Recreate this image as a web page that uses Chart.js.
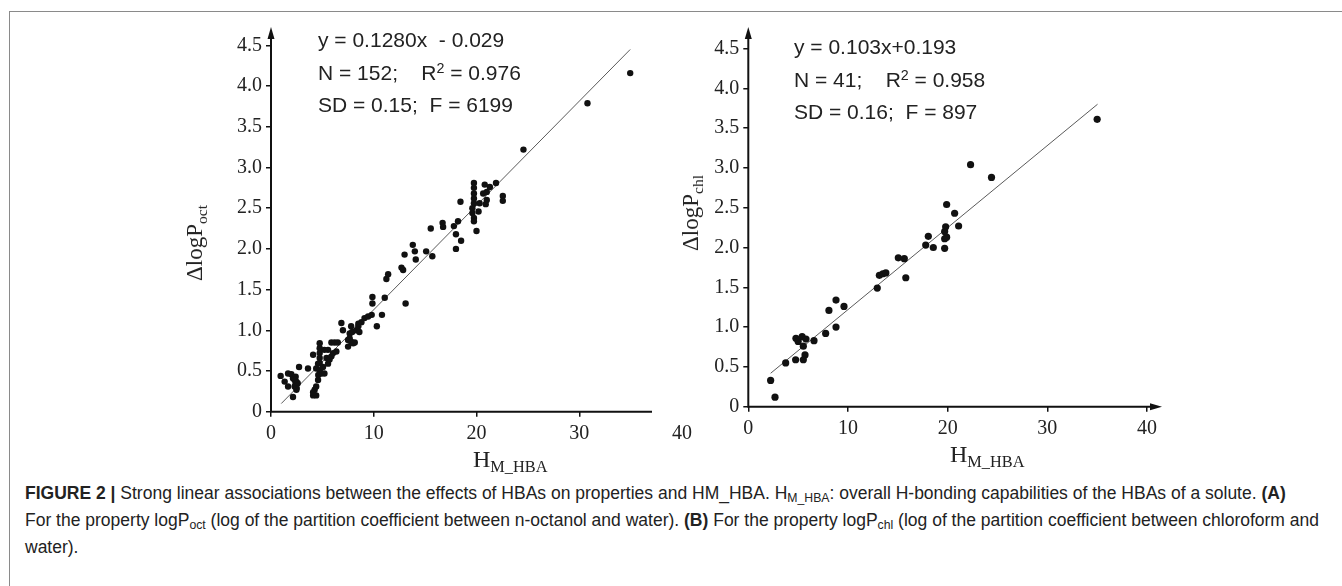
<!DOCTYPE html>
<html lang="en">
<head>
<meta charset="UTF-8"/>
<title>Figure 2 – H_M_HBA vs ΔlogP</title>
<script src="https://cdn.jsdelivr.net/npm/chart.js"></script>
<style>
  body{margin:0;padding:0;background:#fff;width:1342px;height:586px;overflow:hidden;position:relative;font-family:'Liberation Sans',Arial,sans-serif;color:#222;}
  .frame{position:absolute;left:9px;top:11px;width:1400px;height:700px;border:1px solid #8a8a8a;}
  canvas{position:absolute;}
  .eq{position:absolute;font-family:'Liberation Sans',Arial,sans-serif;font-size:21px;line-height:32.5px;color:#222;white-space:pre;}
  .eq sup{font-size:0.68em;vertical-align:0.5em;line-height:0;}
  .ytitle{position:absolute;font-family:'Liberation Serif','Times New Roman',serif;font-size:23px;color:#222;white-space:nowrap;transform:translate(-50%,-50%) rotate(-90deg);}
  .xtitle{position:absolute;font-family:'Liberation Serif','Times New Roman',serif;font-size:24px;line-height:24px;color:#222;white-space:nowrap;}
  .ytitle sub,.xtitle sub{font-size:0.68em;vertical-align:-0.3em;line-height:0;}
  #caption{position:absolute;left:25px;top:480px;font-size:17.5px;line-height:27px;color:#222;white-space:nowrap;}
  #caption sub{font-size:0.7em;vertical-align:-0.25em;line-height:0;}
</style>
</head>
<body>
<div class="frame"></div>

<canvas id="chartA" width="500" height="450" style="left:200px;top:20px;width:500px;height:450px"></canvas>
<canvas id="chartB" width="500" height="450" style="left:680px;top:20px;width:500px;height:450px"></canvas>

<div class="eq" style="left:318px;top:24px">y = 0.1280x  - 0.029
N = 152;    R<sup>2</sup> = 0.976
SD = 0.15;  F = 6199</div>
<div class="eq" style="left:794px;top:31px">y = 0.103x+0.193
N = 41;    R<sup>2</sup> = 0.958
SD = 0.16;  F = 897</div>

<div class="ytitle" style="left:195px;top:243px">ΔlogP<sub>oct</sub></div>
<div class="ytitle" style="left:691px;top:213px">ΔlogP<sub>chl</sub></div>
<div class="xtitle" style="left:473px;top:447px">H<sub>M_HBA</sub></div>
<div class="xtitle" style="left:950px;top:442px">H<sub>M_HBA</sub></div>

<div id="caption"><b>FIGURE 2 |</b> Strong linear associations between the effects of HBAs on properties and HM_HBA. H<sub>M_HBA</sub>: overall H-bonding capabilities of the HBAs of a solute. <b>(A)</b><br>For the property logP<sub>oct</sub> (log of the partition coefficient between n-octanol and water). <b>(B)</b> For the property logP<sub>chl</sub> (log of the partition coefficient between chloroform and<br>water).</div>

<script>
  // tick labels
  const xTicks=[0,10,20,30,40];
  const yTicks=[0,0.5,1,1.5,2,2.5,3,3.5,4,4.5];

  // (A) logP_oct : H_M_HBA vs ΔlogP_oct
  const octX=[0.94,1.33,1.66,1.98,1.66,2.14,2.40,2.47,2.30,2.47,2.14,2.73,3.60,2.60,2.40,2.30,2.50,
    4.10,4.40,4.25,4.40,4.10,4.10,4.74,4.74,4.74,4.74,4.58,4.40,4.74,5.06,4.58,4.90,5.20,5.55,5.40,5.70,5.88,6.04,5.88,6.20,6.50,6.36,5.55,4.74,4.60,5.20,
    6.85,7.00,7.50,7.50,7.80,8.15,7.80,7.66,7.90,8.30,8.50,8.80,9.10,9.45,9.80,8.60,10.30,10.80,9.87,9.87,11.07,11.23,11.40,
    13.10,12.70,12.86,13.00,13.80,14.00,14.09,15.10,15.70,15.55,16.70,16.75,17.80,18.20,18.00,18.50,18.00,18.44,
    19.75,19.75,19.75,19.75,19.75,19.60,19.60,19.75,19.75,20.00,20.20,20.30,20.65,20.80,21.00,21.30,21.90,20.90,22.56,22.56,
    24.57,30.80,34.96,7.66,8.00,8.50,21.00];
  const octY=[0.44,0.37,0.47,0.46,0.31,0.41,0.43,0.37,0.31,0.27,0.18,0.55,0.53,0.35,0.35,0.39,0.29,
    0.70,0.20,0.27,0.31,0.20,0.24,0.84,0.78,0.72,0.66,0.59,0.53,0.51,0.55,0.39,0.47,0.47,0.59,0.66,0.64,0.68,0.72,0.85,0.85,0.85,0.74,0.76,0.60,0.45,0.76,
    1.09,1.00,0.88,0.80,0.86,0.85,1.05,0.96,0.98,1.00,1.05,1.10,1.15,1.17,1.19,0.98,1.05,1.19,1.33,1.41,1.40,1.63,1.69,
    1.33,1.77,1.74,1.93,2.05,1.97,1.87,1.97,1.91,2.25,2.32,2.27,2.28,2.34,2.18,2.10,2.00,2.58,
    2.81,2.75,2.68,2.62,2.56,2.50,2.44,2.38,2.34,2.22,2.46,2.56,2.68,2.79,2.60,2.76,2.81,2.55,2.65,2.59,
    3.22,3.79,4.16,0.90,0.84,1.08,2.70];
  const octFitX=[1.0,34.96];
  const octFitY=[0.10,4.45];

  // (B) logP_chl : H_M_HBA vs ΔlogP_chl
  const chlX=[2.24,2.68,3.75,4.78,5.00,5.40,5.79,5.52,5.69,5.52,4.75,6.59,7.76,8.09,8.80,8.80,9.60,
    12.94,13.15,13.50,13.80,15.05,15.65,15.80,17.80,18.06,18.56,19.70,19.70,19.90,19.70,19.80,19.90,20.70,21.10,
    22.30,24.40,35.00];
  const chlY=[0.33,0.12,0.55,0.86,0.82,0.88,0.85,0.76,0.65,0.59,0.59,0.83,0.92,1.21,1.34,1.00,1.26,
    1.49,1.65,1.67,1.68,1.87,1.86,1.62,2.03,2.14,2.00,1.99,2.11,2.13,2.20,2.26,2.54,2.43,2.27,
    3.04,2.88,3.61];
  const chlFitX=[2.24,35.04];
  const chlFitY=[0.42,3.80];

  const pts=(xs,ys)=>xs.map((x,i)=>({x:x,y:ys[i]}));

  // axis lines with arrow heads
  const axisLines={
    id:'axisLines',
    afterDraw(chart,args,o){
      const {ctx,chartArea:a}=chart;
      ctx.save();
      ctx.strokeStyle='#111';ctx.fillStyle='#111';ctx.lineWidth=2;
      ctx.beginPath();
      ctx.moveTo(a.left,a.bottom+1);ctx.lineTo(a.left,o.yTip+8);
      ctx.moveTo(a.left-1,a.bottom);ctx.lineTo(o.xEnd-(o.xArrow?8:0),a.bottom);
      ctx.stroke();
      ctx.beginPath();
      ctx.moveTo(a.left,o.yTip);ctx.lineTo(a.left-3.5,o.yTip+12);ctx.lineTo(a.left+3.5,o.yTip+12);ctx.closePath();
      ctx.fill();
      if(o.xArrow){
        ctx.beginPath();
        ctx.moveTo(o.xEnd,a.bottom);ctx.lineTo(o.xEnd-12,a.bottom-3.5);ctx.lineTo(o.xEnd-12,a.bottom+3.5);ctx.closePath();
        ctx.fill();
      }
      ctx.restore();
    }
  };

  function makeChart(id,xs,ys,fx,fy,cfg){
    const tickFont={family:'Liberation Serif',size:20};
    return new Chart(document.getElementById(id),{
      type:'scatter',
      data:{datasets:[
        {data:pts(fx,fy),showLine:true,borderColor:'#5a5a5a',borderWidth:1,pointRadius:0,clip:false,order:2},
        {data:pts(xs,ys),backgroundColor:'#111',borderWidth:0,pointRadius:cfg.r,clip:false,order:1}
      ]},
      options:{
        responsive:false,animation:false,
        layout:{padding:cfg.pad},
        plugins:{legend:{display:false},tooltip:{enabled:false},axisLines:cfg.axis},
        scales:{
          x:{type:'linear',min:0,max:40,
            afterFit(s){s.height=cfg.xh;},
            afterBuildTicks(s){s.ticks=xTicks.map(v=>({value:v}));},
            ticks:{font:tickFont,color:'#222',padding:5,maxRotation:0},
            grid:{display:true,drawOnChartArea:false,drawTicks:true,tickLength:5,lineWidth:1.5,
              color:c=>(cfg.noLastTick&&c.tick&&c.tick.value===40)?'rgba(0,0,0,0)':'#111'},
            border:{display:false}},
          y:{type:'linear',min:0,max:4.5,
            afterFit(s){s.width=cfg.yw;},
            afterBuildTicks(s){s.ticks=yTicks.map(v=>({value:v}));},
            ticks:{font:tickFont,color:'#222',padding:4,callback:v=>v===0?'0':v.toFixed(1)},
            grid:{display:true,drawOnChartArea:false,drawTicks:true,tickLength:5,color:'#111',lineWidth:1.5},
            border:{display:false}}
        }
      },
      plugins:[axisLines]
    });
  }

  makeChart('chartA',octX,octY,octFitX,octFitY,{
    r:3.2,pad:{left:0,top:25.4,right:18,bottom:0},xh:58.3,yw:71,noLastTick:true,
    axis:{yTip:7,xEnd:452,xArrow:false}
  });
  makeChart('chartB',chlX,chlY,chlFitX,chlFitY,{
    r:3.6,pad:{left:0,top:28.5,right:33,bottom:0},xh:63.3,yw:68.3,noLastTick:false,
    axis:{yTip:7,xEnd:482,xArrow:true}
  });
</script>
</body>
</html>
